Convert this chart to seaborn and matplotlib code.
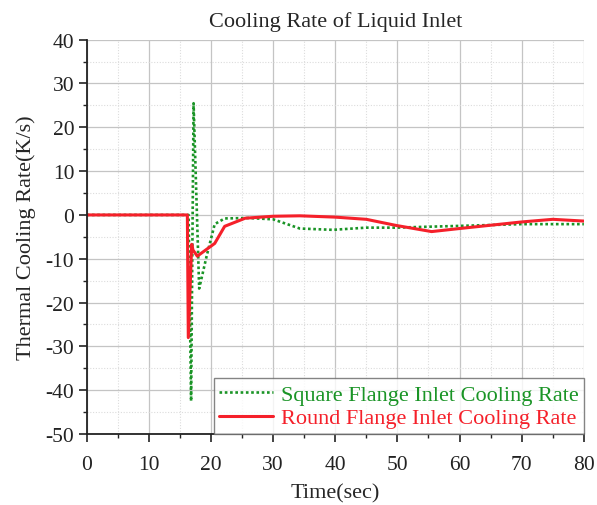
import matplotlib
matplotlib.use("Agg")
import matplotlib.pyplot as plt
from matplotlib.ticker import MultipleLocator
import numpy as np
import pandas as pd
import seaborn as sns

# Square flange inlet cooling rate (K/s) over time (s)
square_time = [0.0, 16.4, 16.8, 17.2, 18.1, 19.3, 20.6, 22.2, 26.0, 30.0,
               34.3, 39.6, 45.0, 49.8, 54.7, 60.0, 70.0, 80.0]
square_rate = [0.0, 0.0, -42.5, 25.5, -16.8, -9.4, -2.1, -0.8, -0.7, -1.0,
               -3.1, -3.4, -2.9, -2.9, -2.7, -2.5, -2.1, -2.1]

# Round flange inlet cooling rate (K/s) over time (s)
round_time = [0.0, 16.2, 16.35, 16.9, 17.1, 17.8, 20.6, 22.2, 25.5, 30.0,
              34.3, 40.0, 45.0, 49.8, 55.5, 60.0, 70.0, 75.0, 80.0]
round_rate = [0.0, 0.0, -28.0, -6.7, -8.0, -9.4, -6.5, -2.6, -0.75, -0.3,
              -0.2, -0.5, -1.0, -2.4, -3.8, -3.1, -1.6, -1.0, -1.4]

series_names = ["Square Flange Inlet Cooling Rate", "Round Flange Inlet Cooling Rate"]
series_colors = ["#1a9426", "#f5202a"]

df = pd.concat([
    pd.DataFrame({"Time": square_time, "Rate": square_rate, "Series": series_names[0]}),
    pd.DataFrame({"Time": round_time, "Rate": round_rate, "Series": series_names[1]}),
], ignore_index=True)

sns.set_style("ticks")
plt.rcParams["font.family"] = ["Liberation Serif", "DejaVu Serif"]
plt.rcParams["axes.unicode_minus"] = False

fig = plt.figure(figsize=(5.97, 5.06), dpi=100)
ax = fig.add_axes([0.1452, 0.1403, 0.978 - 0.1452, 0.9196 - 0.1403])

sns.lineplot(data=df[df["Series"] == series_names[0]], x="Time", y="Rate",
             color=series_colors[0], linestyle=(0, (1, 1.0)), linewidth=1.9,
             ax=ax, label=series_names[0], sort=False, estimator=None)
sns.lineplot(data=df[df["Series"] == series_names[1]], x="Time", y="Rate",
             color=series_colors[1], linewidth=2.2,
             ax=ax, label=series_names[1], sort=False, estimator=None)

ax.set_xlim(0, 80)
ax.set_ylim(-50, 40)
ax.xaxis.set_major_locator(MultipleLocator(10))
ax.xaxis.set_minor_locator(MultipleLocator(5))
ax.yaxis.set_major_locator(MultipleLocator(10))
ax.yaxis.set_minor_locator(MultipleLocator(5))

ax.grid(which="major", color="#c4c4c4", linewidth=0.9, linestyle="-")
ax.grid(which="minor", color="#dcdcdc", linewidth=0.8, linestyle=(0, (1, 1.5)))
ax.set_axisbelow(True)

for s in ("top", "right"):
    ax.spines[s].set_visible(False)
for s in ("left", "bottom"):
    ax.spines[s].set_color("#222222")
    ax.spines[s].set_linewidth(1.3)

ax.tick_params(which="major", direction="out", length=6, width=1.2,
               labelsize=15.5, colors="#222222", pad=3)
ax.tick_params(which="minor", direction="out", length=3, width=1.0, colors="#222222")
ax.tick_params(axis="x", which="major", pad=9)

ax.set_xlabel("Time(sec)", fontsize=16, labelpad=7)
ax.set_ylabel("Thermal Cooling Rate(K/s)", fontsize=16, labelpad=7)
ax.set_title("Cooling Rate of Liquid Inlet", fontsize=16, pad=10)

leg = ax.legend(loc="lower right", bbox_to_anchor=(1.0, 0.0), borderaxespad=0,
                fontsize=16, frameon=True, fancybox=False, handlelength=2.4,
                handletextpad=0.35, borderpad=0.25, labelspacing=0.15)
leg.get_frame().set_edgecolor("#666666")
leg.get_frame().set_linewidth(1.0)
for txt, col in zip(leg.get_texts(), series_colors):
    txt.set_color(col)

fig.savefig("out.png", dpi=100)
